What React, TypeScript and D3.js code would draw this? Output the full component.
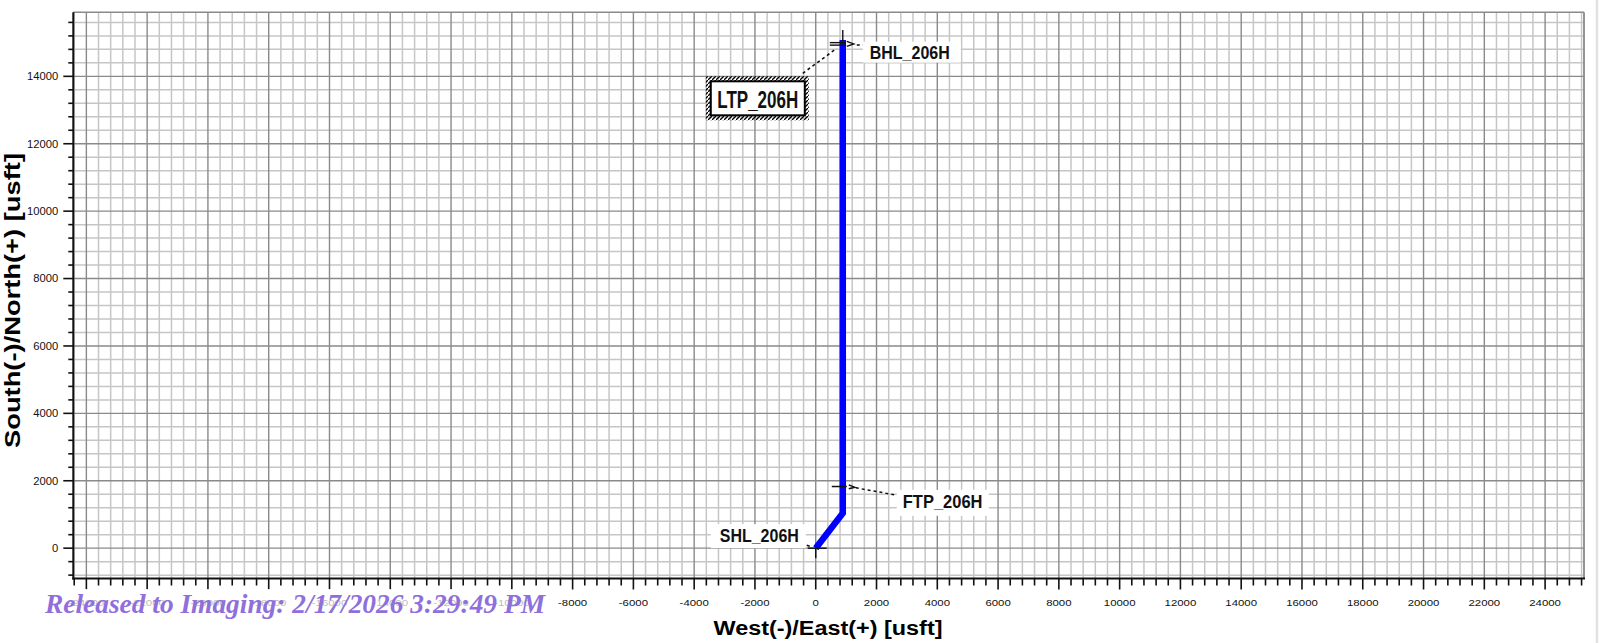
import React from 'react';
import * as d3 from 'd3';

const W = 1600;
const H = 643;

// axis extents (usft)
const xDomain = [-24430, 25280];
const yDomain = [-900, 15900];

const xTickLabels = [-24000, -22000, -20000, -18000, -16000, -14000, -12000, -10000, -8000, -6000, -4000, -2000, 0, 2000, 4000, 6000, 8000, 10000, 12000, 14000, 16000, 18000, 20000, 22000, 24000];
const yTickLabels = [0, 2000, 4000, 6000, 8000, 10000, 12000, 14000];
const minorStep = 400;

// well path (East, North)
const pathEast = [0, 890, 890];
const pathNorth = [0, 1040, 15080];

// targets
const targetNames = ['SHL_206H', 'FTP_206H', 'LTP_206H', 'BHL_206H'];
const targetEast = [0, 890, 890, 890];
const targetNorth = [0, 1850, 14980, 15080];

const xTitle = 'West(-)/East(+) [usft]';
const yTitle = 'South(-)/North(+)  [usft]';
const watermark = 'Released to Imaging: 2/17/2026 3:29:49 PM';

const SANS = 'Liberation Sans, Arial, Helvetica, sans-serif';

export default function App() {
  const L = 73.3, R = 1584, T = 12.3, B = 578.5;
  const x = d3.scaleLinear().domain(xDomain).range([L, R]);
  const y = d3.scaleLinear().domain(yDomain).range([B, T]);

  const xMinor = d3.range(Math.ceil(xDomain[0] / minorStep) * minorStep, xDomain[1] + 1, minorStep);
  const yMinor = d3.range(Math.ceil(yDomain[0] / minorStep) * minorStep, yDomain[1] + 1, minorStep);
  const isMajor = (v: number) => v % 2000 === 0;

  const line = d3.line<number>()
    .x((_, i) => x(pathEast[i]))
    .y((_, i) => y(pathNorth[i]));
  const pathD = line(pathEast) || '';

  const shl = { x: x(targetEast[0]), y: y(targetNorth[0]) };
  const ftp = { x: x(targetEast[1]), y: y(targetNorth[1]) };
  const ltp = { x: x(targetEast[2]), y: y(targetNorth[2]) };
  const bhl = { x: x(targetEast[3]), y: y(targetNorth[3]) };

  // LTP box geometry
  const ltpOuter = { x0: ltp.x - 137, y0: ltp.y + 33, x1: ltp.x - 34, y1: ltp.y + 77 };
  const ltpInner = { x0: ltp.x - 132, y0: ltp.y + 38, x1: ltp.x - 38, y1: ltp.y + 72 };

  return (
    <svg width={W} height={H} viewBox={`0 0 ${W} ${H}`} style={{ position: 'absolute', left: 0, top: 0, background: '#fff' }}>
      <defs>
        <pattern id="hatch" patternUnits="userSpaceOnUse" width={4} height={4}>
          <path d="M-1,5 L5,-1" stroke="#000" strokeWidth={1.3} />
        </pattern>
        <clipPath id="plotClip">
          <rect x={L} y={T} width={R - L} height={B - T} />
        </clipPath>
      </defs>
      <rect x={0} y={0} width={W} height={H} fill="#fff" />

      {/* minor grid */}
      <g stroke="#c6c6c6" strokeWidth={1.5}>
        {xMinor.filter(v => !isMajor(v)).map(v => (
          <line key={'xm' + v} x1={x(v)} x2={x(v)} y1={T} y2={B} />
        ))}
        {yMinor.filter(v => !isMajor(v)).map(v => (
          <line key={'ym' + v} x1={L} x2={R} y1={y(v)} y2={y(v)} />
        ))}
      </g>
      {/* major grid */}
      <g stroke="#8a8a8a" strokeWidth={1.4}>
        {xMinor.filter(isMajor).map(v => (
          <line key={'xM' + v} x1={x(v)} x2={x(v)} y1={T} y2={B} />
        ))}
        {yMinor.filter(isMajor).map(v => (
          <line key={'yM' + v} x1={L} x2={R} y1={y(v)} y2={y(v)} />
        ))}
      </g>

      {/* border */}
      <line x1={L} x2={R} y1={T} y2={T} stroke="#8a8a8a" strokeWidth={1.6} />
      <line x1={R} x2={R} y1={T} y2={B} stroke="#8a8a8a" strokeWidth={1.8} />
      <line x1={L} x2={L} y1={T} y2={B + 1} stroke="#111" strokeWidth={2} />
      <line x1={L - 1} x2={R + 1} y1={B} y2={B} stroke="#111" strokeWidth={2} />

      {/* y ticks */}
      <g stroke="#111" strokeWidth={1.6}>
        {yMinor.map(v => (
          <line key={'yt' + v} x1={L - (isMajor(v) ? 10 : 5)} x2={L} y1={y(v)} y2={y(v)} />
        ))}
      </g>
      {/* x ticks */}
      <g stroke="#111" strokeWidth={1.6}>
        {xMinor.map(v => (
          <line key={'xt' + v} x1={x(v)} x2={x(v)} y1={B} y2={B + (isMajor(v) ? 11 : 7)} />
        ))}
      </g>

      {/* y tick labels */}
      <g fontFamily={SANS} fontSize={10.5} fill="#111">
        {yTickLabels.map(v => (
          <text key={'yl' + v} transform={`translate(${L - 15},${y(v) + 3.8}) scale(1.07,1)`} textAnchor="end">{v}</text>
        ))}
      </g>
      {/* x tick labels */}
      <g fontFamily={SANS} fontSize={9.5} fill="#111">
        {xTickLabels.map(v => (
          <text key={'xl' + v} transform={`translate(${x(v)},605.5) scale(1.2,1)`} textAnchor="middle">{v}</text>
        ))}
      </g>

      {/* axis titles */}
      <text x={713.5} y={635} fontFamily={SANS} fontSize={20} fontWeight="bold" fill="#000"
        textLength={229} lengthAdjust="spacingAndGlyphs">{xTitle}</text>
      <text transform="translate(19.5,448) rotate(-90)" fontFamily={SANS} fontSize={22.5} fontWeight="bold" fill="#000"
        textLength={295} lengthAdjust="spacingAndGlyphs">{yTitle}</text>

      {/* well path */}
      <path d={pathD} fill="none" stroke="#0000ff" strokeWidth={6.5} strokeLinejoin="miter" clipPath="url(#plotClip)" />

      {/* SHL */}
      <g stroke="#111" strokeWidth={1.5}>
        <line x1={shl.x - 8} x2={shl.x + 11} y1={shl.y} y2={shl.y} />
        <line x1={shl.x} x2={shl.x} y1={shl.y} y2={shl.y + 10} />
        <line x1={shl.x - 9} x2={shl.x - 6} y1={shl.y - 3} y2={shl.y - 2} />
      </g>
      <rect x={shl.x - 105} y={shl.y - 24} width={95} height={24} fill="#fff" />
      <text transform={`translate(${shl.x - 96},${shl.y - 6.5}) scale(1,1.15)`} fontFamily={SANS} fontSize={16} fontWeight="bold" fill="#111">{targetNames[0]}</text>

      {/* FTP */}
      <g stroke="#111" strokeWidth={1.5} fill="none">
        <line x1={ftp.x - 11} x2={ftp.x + 4} y1={ftp.y + 0.7} y2={ftp.y + 0.7} />
        <path d={`M${ftp.x + 6},${ftp.y - 1} L${ftp.x + 12},${ftp.y + 1.5} L${ftp.x + 6},${ftp.y + 3}`} />
        <line x1={ftp.x + 13} x2={ftp.x + 52} y1={ftp.y + 2} y2={ftp.y + 9} strokeDasharray="3,3" />
      </g>
      <rect x={ftp.x + 54} y={ftp.y + 4} width={92} height={26} fill="#fff" />
      <text transform={`translate(${ftp.x + 60},${ftp.y + 22.3}) scale(1,1.1)`} fontFamily={SANS} fontSize={16.5} fontWeight="bold" fill="#111">{targetNames[1]}</text>

      {/* BHL */}
      <g stroke="#111" strokeWidth={1.4} fill="none">
        <line x1={bhl.x} x2={bhl.x} y1={bhl.y - 10} y2={bhl.y + 1} />
        <line x1={bhl.x - 13} x2={bhl.x + 3} y1={bhl.y + 2.7} y2={bhl.y + 2.7} />
        <line x1={bhl.x - 13} x2={bhl.x + 3} y1={bhl.y + 5.2} y2={bhl.y + 5.2} />
        <path d={`M${bhl.x + 4},${bhl.y + 1.5} L${bhl.x + 11},${bhl.y + 4} L${bhl.x + 4},${bhl.y + 6.5}`} />
        <line x1={bhl.x + 14} x2={bhl.x + 21} y1={bhl.y + 5} y2={bhl.y + 5} strokeDasharray="3,3" />
      </g>
      <rect x={bhl.x + 20} y={bhl.y + 1.7} width={98} height={21} fill="#fff" />
      <text transform={`translate(${bhl.x + 27},${bhl.y + 19.3}) scale(1,1.1)`} fontFamily={SANS} fontSize={16} fontWeight="bold" fill="#111">{targetNames[3]}</text>

      {/* LTP */}
      <line x1={ltpOuter.x1 - 6} y1={ltpOuter.y0 - 3} x2={ltp.x - 6} y2={ltp.y + 5} stroke="#111" strokeWidth={1.6} strokeDasharray="3,3" />
      <path
        d={`M${ltpOuter.x0},${ltpOuter.y0} H${ltpOuter.x1} V${ltpOuter.y1} H${ltpOuter.x0} Z M${ltpInner.x0},${ltpInner.y0} V${ltpInner.y1} H${ltpInner.x1} V${ltpInner.y0} Z`}
        fill="url(#hatch)" fillRule="evenodd" />
      <rect x={ltpInner.x0} y={ltpInner.y0} width={ltpInner.x1 - ltpInner.x0} height={ltpInner.y1 - ltpInner.y0} fill="#fff" stroke="#000" strokeWidth={2} />
      <text transform={`translate(${(ltpInner.x0 + ltpInner.x1) / 2},${ltpInner.y0 + 26.5}) scale(1,1.42)`} textAnchor="middle" fontFamily={SANS} fontSize={17} fontWeight="bold" fill="#111">{targetNames[2]}</text>

      {/* watermark */}
      <rect x={40} y={589} width={512} height={31} fill="#fff" opacity={0.7} />
      <text x={45} y={613} fontFamily="Liberation Serif, Times New Roman, serif" fontSize={27} fontWeight="bold" fontStyle="italic"
        fill="#8f6fdc" textLength={500} lengthAdjust="spacingAndGlyphs">{watermark}</text>

      {/* window edge */}
      <line x1={1597} x2={1597} y1={0} y2={H} stroke="#e2e2e2" strokeWidth={2.5} />
    </svg>
  );
}
